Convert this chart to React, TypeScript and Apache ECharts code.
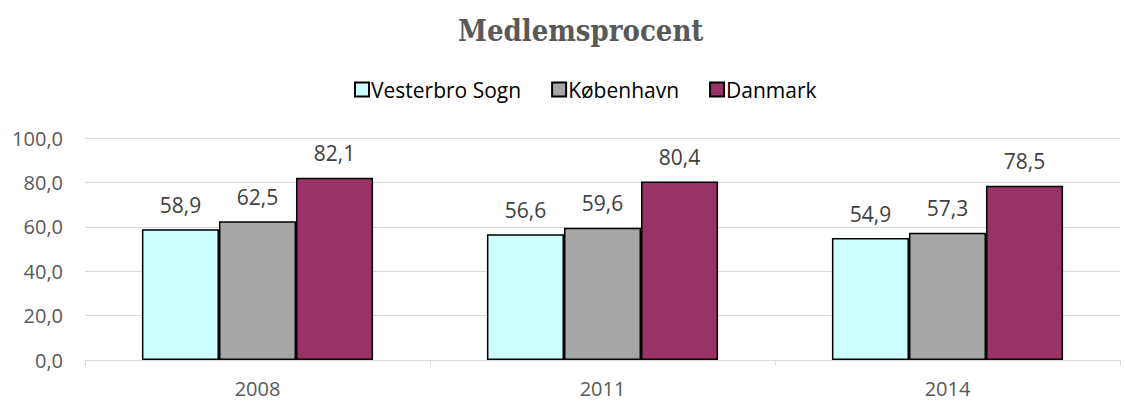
import React, { useEffect, useRef } from "react";
import * as echarts from "echarts";

const categories = ["2008", "2011", "2014"];
const vesterbro = [58.9, 56.6, 54.9];
const koebenhavn = [62.5, 59.6, 57.3];
const danmark = [82.1, 80.4, 78.5];
const seriesNames = ["Vesterbro Sogn", "København", "Danmark"];
const colors = ["#CCFFFF", "#A6A6A6", "#993366"];

const fmt = (v: number) => v.toFixed(1).replace(".", ",");
const FONT = "'Open Sans', 'Noto Sans', sans-serif";

export default function App() {
  const ref = useRef<HTMLDivElement>(null);
  useEffect(() => {
    if (!ref.current) return;
    const chart = echarts.init(ref.current, undefined, { renderer: "svg" });
    const data = [vesterbro, koebenhavn, danmark];
    chart.setOption({
      animation: false,
      title: {
        text: "Medlemsprocent",
        left: 453,
        top: 11,
        textStyle: {
          fontFamily: "'DejaVu Serif Condensed', 'DejaVu Serif', serif",
          fontWeight: "bold",
          fontSize: 29,
          color: "#595959",
        },
      },
      legend: {
        top: 74,
        left: 349,
        itemWidth: 14,
        itemHeight: 14,
        itemGap: 30,
        icon: "rect",
        textStyle: { fontFamily: FONT, fontSize: 21, color: "#000000", padding: [0, 0, 0, -3] },
        data: seriesNames,
      },
      grid: { left: 85, right: 5, top: 138, bottom: 41, containLabel: false },
      xAxis: {
        type: "category",
        data: categories,
        axisLine: { lineStyle: { color: "#D9D9D9" } },
        axisTick: { show: true, alignWithLabel: false, length: 6, lineStyle: { color: "#D9D9D9" } },
        axisLabel: { fontFamily: FONT, fontSize: 20, color: "#595959", margin: 18 },
      },
      yAxis: {
        type: "value",
        min: 0,
        max: 100,
        interval: 20,
        axisLine: { show: false },
        axisTick: { show: false },
        splitLine: { lineStyle: { color: "#D9D9D9" } },
        axisLabel: {
          fontFamily: FONT,
          fontSize: 20,
          color: "#595959",
          margin: 22,
          formatter: (v: number) => fmt(v),
        },
      },
      series: data.map((d, i) => ({
        name: seriesNames[i],
        type: "bar",
        data: d,
        barGap: "0%",
        barCategoryGap: "33%",
        itemStyle: { color: colors[i], borderColor: "#000000", borderWidth: 1.5 },
        label: {
          show: true,
          position: "top",
          distance: 14,
          fontFamily: FONT,
          fontSize: 21,
          color: "#404040",
          formatter: (p: any) => fmt(p.value),
        },
      })),
    });
    return () => chart.dispose();
  }, []);
  return <div ref={ref} style={{ width: 1125, height: 401, position: "absolute", left: 0, top: 0 }} />;
}
